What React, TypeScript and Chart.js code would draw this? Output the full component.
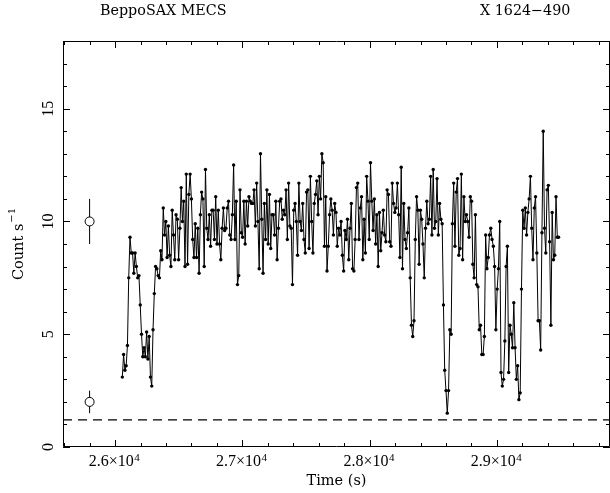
import React, { useEffect, useRef } from 'react';
import { Chart, registerables } from 'chart.js';

Chart.register(...registerables);

const TITLE_LEFT = 'BeppoSAX MECS';
const TITLE_RIGHT = 'X 1624\u2212490';
const X_AXIS_TITLE = 'Time (s)';
const Y_AXIS_TITLE = 'Count s';
const Y_AXIS_TITLE_SUP = '\u22121';

const X_MIN = 25591;
const X_MAX = 29888;
const Y_MIN = 0;
const Y_MAX = 18;
const X_MAJOR_TICKS = [26000, 27000, 28000, 29000];
const X_TICK_MANTISSA = ['2.6', '2.7', '2.8', '2.9'];
const X_TICK_EXP = '4';
const X_MINOR_STEP = 200;
const Y_MAJOR_TICKS = [0, 5, 10, 15];
const Y_TICK_LABELS = ['0', '5', '10', '15'];
const Y_MINOR_STEP = 1;

// light curve: evenly binned count rates
const BIN_START = 26057;
const BIN_WIDTH = 10.05;

const RATE_PART_1 = [
  3.1, 4.1, 3.4, 3.6, 4.5, 7.5, 9.3, 8.6, 8.6, 7.7,
  8.6, 8.0, 7.5, 7.6, 6.3, 5.0, 4.0, 4.4, 4.0, 5.1,
  3.9, 4.9, 3.1, 2.7, 5.2, 6.8, 8.0, 7.9, 7.6, 7.5,
  8.7, 8.3, 10.6, 9.4, 10.0, 8.4, 9.8, 8.5, 8.0, 10.5,
  9.4, 8.3, 10.3, 10.1, 8.3, 9.7, 11.5, 10.0, 10.9, 8.0,
  12.1, 8.1, 11.2, 12.1, 11.0, 9.2, 8.4, 9.9, 8.4, 9.7,
  7.7, 10.3, 11.3, 11.0, 8.0, 12.3, 9.7, 9.2, 10.3, 8.9,
  10.5, 10.5, 9.2, 11.1, 9.0,
];
const RATE_PART_2 = [
  10.5, 9.0, 8.3, 9.7, 10.6, 9.6, 9.7, 10.6, 10.9, 9.4,
  9.2, 10.3, 12.5, 9.2, 10.9, 7.2, 7.6, 11.4, 9.5, 9.3,
  10.9, 9.0, 10.9, 9.8, 11.1, 10.9, 10.8, 10.8, 11.4, 9.8,
  11.7, 10.0, 7.9, 13.0, 10.1, 7.7, 10.8, 9.2, 11.4, 9.0,
  11.2, 8.8, 10.3, 10.3, 9.4, 10.9, 8.3, 9.7, 10.9, 11.0,
  10.1, 10.5, 10.3, 11.4, 9.2, 11.7, 9.8, 9.7, 7.2, 10.5,
  10.8, 10.0, 8.5, 11.7, 10.0, 9.6, 10.8, 9.2, 8.6, 11.3,
  11.4, 8.8, 12.0, 10.0,
];
const RATE_PART_3 = [
  8.6, 10.8, 11.2, 11.8, 10.3, 12.0, 11.0, 13.0, 12.6, 8.9,
  11.1, 7.8, 8.9, 10.3, 11.0, 10.5, 9.4, 10.8, 10.4, 8.9,
  9.7, 9.4, 10.0, 8.5, 7.8, 9.6, 9.2, 10.1, 8.3, 9.7,
  10.8, 7.9, 7.8, 9.2, 11.5, 11.7, 9.2, 10.6, 11.1, 8.3,
  10.1, 8.6, 12.0, 10.9, 9.2, 12.6, 10.9, 9.6, 11.0, 9.0,
  10.3, 8.0, 10.4, 8.7, 9.5, 10.5, 9.4, 9.1, 11.4, 11.2,
  9.1, 8.9, 11.7, 10.8, 10.4, 10.6, 11.7, 10.3, 8.4, 12.4,
  7.9, 10.8, 9.2,
];
const RATE_PART_4 = [
  8.8, 9.5, 10.6, 7.5, 5.4, 4.9, 5.6, 9.2, 11.1, 10.5,
  8.1, 10.5, 10.1, 9.0, 7.5, 9.7, 10.9, 9.9, 10.1, 12.0,
  9.4, 12.3, 9.7, 10.0, 11.9, 9.4, 10.8, 10.1, 9.9, 6.3,
  3.4, 2.5, 1.5, 2.5, 5.2, 5.0, 9.9, 11.7, 8.9, 11.3,
  11.9, 8.5, 8.8, 12.1, 8.3, 11.1, 10.0, 10.3, 10.0, 9.3,
  11.1, 10.9, 8.1, 7.5, 10.3, 7.2, 7.1, 5.2, 5.4, 4.1,
  4.1, 4.9, 9.4, 7.9, 8.4, 9.4, 9.7, 9.2, 8.9, 8.0,
];
const RATE_PART_5 = [
  5.2, 7.0, 7.9, 10.0, 3.3, 2.7, 3.0, 4.7, 8.0, 8.9,
  3.3, 5.4, 5.0, 4.4, 6.4, 4.4, 3.0, 3.6, 2.1, 2.4,
  7.0, 10.5, 9.7, 10.6, 9.4, 10.4, 11.0, 12.0, 9.7, 8.3,
  10.6, 11.1, 8.6, 5.6, 5.6, 4.3, 9.5, 14.0, 9.7, 8.6,
  11.4, 11.6, 9.1, 5.4, 10.4, 8.3, 8.5, 11.1, 9.3, 9.3,
];

// reference points with error bars
const REF_TIME = [25800, 25800];
const REF_RATE = [10, 2];
const REF_ERR = [1.0, 0.5];

const BACKGROUND_RATE = 1.2;

const TEXT_FONT = '"DejaVu Serif", serif';
const NUM_FONT = '"Liberation Serif", serif';

const axesPlugin = {
  id: 'pgplotAxes',
  afterDatasetsDraw(chart: any) {
    const { ctx, chartArea } = chart;
    const { left, right, top, bottom } = chartArea;
    const xs = chart.scales.x;
    const ys = chart.scales.y;
    ctx.save();
    ctx.strokeStyle = '#000';
    ctx.lineWidth = 1;
    ctx.beginPath();
    ctx.rect(left + 0.5, top + 0.5, right - left - 1, bottom - top - 1);
    ctx.stroke();

    ctx.beginPath();
    const xStart = Math.ceil(X_MIN / X_MINOR_STEP) * X_MINOR_STEP;
    for (let v = xStart; v <= X_MAX; v += X_MINOR_STEP) {
      const px = Math.round(xs.getPixelForValue(v)) + 0.5;
      const major = X_MAJOR_TICKS.includes(v);
      const len = major ? 7 : 4;
      ctx.moveTo(px, bottom);
      ctx.lineTo(px, bottom - len);
      ctx.moveTo(px, top);
      ctx.lineTo(px, top + len);
    }
    for (let v = Y_MIN; v <= Y_MAX; v += Y_MINOR_STEP) {
      const py = Math.round(ys.getPixelForValue(v)) + 0.5;
      const major = Y_MAJOR_TICKS.includes(v);
      const len = major ? 7 : 4;
      ctx.moveTo(left, py);
      ctx.lineTo(left + len, py);
      ctx.moveTo(right, py);
      ctx.lineTo(right - len, py);
    }
    ctx.stroke();
    ctx.restore();
  },
  afterDraw(chart: any) {
    const { ctx, chartArea } = chart;
    const { left, right, top, bottom } = chartArea;
    const xs = chart.scales.x;
    const ys = chart.scales.y;
    ctx.save();
    ctx.fillStyle = '#000';
    ctx.textBaseline = 'alphabetic';

    // titles
    ctx.font = `14.3px ${TEXT_FONT}`;
    ctx.textAlign = 'left';
    ctx.fillText(TITLE_LEFT, 100, 15);
    ctx.fillText(TITLE_RIGHT, 480, 15);

    // x tick labels
    X_MAJOR_TICKS.forEach((v, i) => {
      const px = xs.getPixelForValue(v);
      const main = `${X_TICK_MANTISSA[i]}\u00d710`;
      ctx.font = `16px ${NUM_FONT}`;
      const w1 = ctx.measureText(main).width;
      ctx.font = `11px ${NUM_FONT}`;
      const w2 = ctx.measureText(X_TICK_EXP).width;
      const x0 = px - (w1 + w2) / 2 - 1;
      ctx.font = `16px ${NUM_FONT}`;
      ctx.fillText(main, x0, bottom + 19);
      ctx.font = `11px ${NUM_FONT}`;
      ctx.fillText(X_TICK_EXP, x0 + w1 + 0.5, bottom + 13.5);
    });

    // y tick labels (rotated)
    ctx.font = `16px ${NUM_FONT}`;
    Y_MAJOR_TICKS.forEach((v, i) => {
      const py = ys.getPixelForValue(v);
      ctx.save();
      ctx.translate(left - 10, py);
      ctx.rotate(-Math.PI / 2);
      ctx.textAlign = 'center';
      ctx.fillText(Y_TICK_LABELS[i], 0, 0);
      ctx.restore();
    });

    // x axis title
    ctx.font = `14.5px ${TEXT_FONT}`;
    ctx.textAlign = 'center';
    ctx.fillText(X_AXIS_TITLE, (left + right) / 2, bottom + 38);

    // y axis title (rotated with superscript)
    ctx.save();
    ctx.translate(23, (top + bottom) / 2);
    ctx.rotate(-Math.PI / 2);
    ctx.textAlign = 'left';
    ctx.font = `14.5px ${TEXT_FONT}`;
    const tw1 = ctx.measureText(Y_AXIS_TITLE).width;
    ctx.font = `10px ${TEXT_FONT}`;
    const tw2 = ctx.measureText(Y_AXIS_TITLE_SUP).width;
    const sx = -(tw1 + tw2 + 1) / 2;
    ctx.font = `14.5px ${TEXT_FONT}`;
    ctx.fillText(Y_AXIS_TITLE, sx, 0);
    ctx.font = `10px ${TEXT_FONT}`;
    ctx.fillText(Y_AXIS_TITLE_SUP, sx + tw1 + 1, -8);
    ctx.restore();

    ctx.restore();
  },
};

export default function App() {
  const canvasRef = useRef<HTMLCanvasElement | null>(null);

  useEffect(() => {
    const canvas = canvasRef.current;
    if (!canvas) return;

    const rates = [...RATE_PART_1, ...RATE_PART_2, ...RATE_PART_3, ...RATE_PART_4, ...RATE_PART_5];
    const curve = rates.map((r, i) => ({ x: BIN_START + i * BIN_WIDTH, y: r }));

    const refCircles = {
      data: REF_TIME.map((t, i) => ({ x: t, y: REF_RATE[i] })),
      showLine: false,
      pointRadius: 4.5,
      pointStyle: 'circle',
      pointBackgroundColor: '#fff',
      pointBorderColor: '#000',
      pointBorderWidth: 1,
      order: 0,
    };
    const errorBars = REF_TIME.map((t, i) => ({
      data: [
        { x: t, y: REF_RATE[i] - REF_ERR[i] },
        { x: t, y: REF_RATE[i] + REF_ERR[i] },
      ],
      showLine: true,
      borderColor: '#000',
      borderWidth: 1,
      pointRadius: 0,
      order: 2,
    }));

    const chart = new Chart(canvas, {
      type: 'scatter',
      data: {
        datasets: [
          refCircles as any,
          ...(errorBars as any[]),
          {
            data: curve,
            showLine: true,
            borderColor: '#000',
            borderWidth: 1,
            pointRadius: 1.7,
            pointBackgroundColor: '#000',
            pointBorderWidth: 0,
            tension: 0,
            order: 1,
          },
          {
            data: [
              { x: X_MIN, y: BACKGROUND_RATE },
              { x: X_MAX, y: BACKGROUND_RATE },
            ],
            showLine: true,
            borderColor: '#000',
            borderWidth: 1.2,
            borderDash: [9, 6],
            pointRadius: 0,
            order: 3,
          },
        ],
      },
      options: {
        responsive: false,
        animation: false,
        devicePixelRatio: 1,
        layout: { autoPadding: false, padding: { left: 63, right: 0, top: 41, bottom: 46 } },
        plugins: {
          legend: { display: false },
          tooltip: { enabled: false },
          title: { display: false },
        },
        events: [],
        scales: {
          x: { type: 'linear', min: X_MIN, max: X_MAX, display: false },
          y: { type: 'linear', min: Y_MIN, max: Y_MAX, display: false },
        },
      },
      plugins: [axesPlugin],
    });

    return () => chart.destroy();
  }, []);

  return (
    <div style={{ position: 'absolute', left: 0, top: 0, width: 610, height: 493, background: '#fff' }}>
      <canvas ref={canvasRef} width={610} height={493} style={{ display: 'block' }} />
    </div>
  );
}
